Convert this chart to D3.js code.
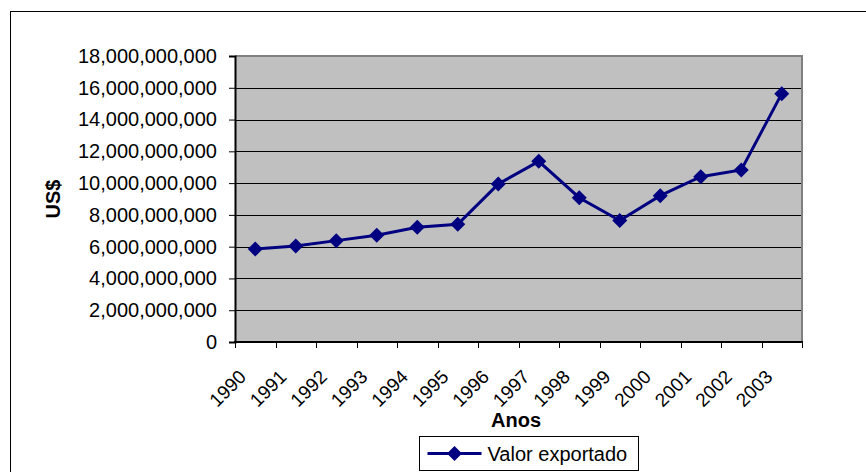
<!DOCTYPE html>
<html lang="pt">
<head>
  <meta charset="UTF-8">
  <title>Valor exportado</title>
  <script src="https://d3js.org/d3.v7.min.js"></script>
  <style>
    body { margin:0; background:#fff; }
    svg { display:block; font-family:'Liberation Sans', Arial, sans-serif; }
  </style>
</head>
<body>
  <svg width="866" height="472"></svg>
  <script>
    // anos e valores exportados (US$)
    const years = ['1990','1991','1992','1993','1994','1995','1996','1997','1998','1999','2000','2001','2002','2003']
    const values = [5.85e9, 6.04e9, 6.38e9, 6.72e9, 7.22e9, 7.41e9, 9.94e9, 11.37e9, 9.08e9, 7.64e9, 9.21e9, 10.40e9, 10.83e9, 15.63e9]
    const yTicks = [0, 2e9, 4e9, 6e9, 8e9, 10e9, 12e9, 14e9, 16e9, 18e9]
    const seriesName = 'Valor exportado'

    const svg = d3.select('svg')
    const plot = {left: 235, right: 802, top: 56, bottom: 342}
    const navy = '#000080'

    // outer chart border (runs off the page right and bottom)
    svg.append('rect')
      .attr('x', 10.5).attr('y', 11.5)
      .attr('width', 900).attr('height', 500)
      .attr('fill', 'none').attr('stroke', '#000').attr('stroke-width', 1)

    const x = d3.scaleBand().domain(years).range([plot.left, plot.right])
    const y = d3.scaleLinear().domain([0, 18e9]).range([plot.bottom, plot.top])

    // plot area
    svg.append('rect')
      .attr('x', plot.left).attr('y', plot.top)
      .attr('width', plot.right - plot.left).attr('height', plot.bottom - plot.top)
      .attr('fill', '#c0c0c0')

    // gridlines
    svg.append('g').selectAll('line')
      .data(yTicks.filter(d => d > 0 && d < 18e9))
      .enter().append('line')
      .attr('x1', plot.left).attr('x2', plot.right)
      .attr('y1', d => Math.round(y(d)) + 0.5).attr('y2', d => Math.round(y(d)) + 0.5)
      .attr('stroke', '#000').attr('stroke-width', 1)

    // plot border top / right in gray
    svg.append('path')
      .attr('d', `M${plot.left},${plot.top} H${plot.right} V${plot.bottom}`)
      .attr('fill', 'none').attr('stroke', '#808080').attr('stroke-width', 2)

    // y axis
    const yAxis = d3.axisLeft(y)
      .tickValues(yTicks)
      .tickSize(6)
      .tickPadding(12)
      .tickFormat(d3.format(',.0f'))
    const gy = svg.append('g')
      .attr('transform', `translate(${plot.left},0)`)
      .call(yAxis)
    gy.select('.domain').attr('stroke', '#000').attr('stroke-width', 2)
    gy.selectAll('.tick line').attr('stroke', '#000')
    gy.selectAll('.tick text')
      .attr('font-size', 20).attr('fill', '#000')
      .attr('font-family', "'Liberation Sans', Arial, sans-serif")

    // x axis: ticks on category boundaries
    const bounds = years.map(d => x(d)).concat([plot.right])
    const gx = svg.append('g')
    gx.append('line')
      .attr('x1', plot.left - 1).attr('x2', plot.right + 1)
      .attr('y1', plot.bottom).attr('y2', plot.bottom)
      .attr('stroke', '#000').attr('stroke-width', 2)
    gx.selectAll('line.tk').data(bounds).enter().append('line')
      .attr('class', 'tk')
      .attr('x1', d => Math.round(d) + 0.5).attr('x2', d => Math.round(d) + 0.5)
      .attr('y1', plot.bottom).attr('y2', plot.bottom + 6)
      .attr('stroke', '#000')
    gx.selectAll('text').data(years).enter().append('text')
      .attr('transform', d => `translate(${x(d) + x.bandwidth() / 2 - 8},${plot.bottom + 36}) rotate(-45)`)
      .attr('text-anchor', 'end')
      .attr('font-size', 19)
      .text(d => d)

    // axis titles
    svg.append('text')
      .attr('transform', `translate(60,${(plot.top + plot.bottom) / 2}) rotate(-90)`)
      .attr('text-anchor', 'middle')
      .attr('font-size', 20).attr('font-weight', 'bold')
      .text('US$')
    svg.append('text')
      .attr('x', 516).attr('y', 427)
      .attr('text-anchor', 'middle')
      .attr('font-size', 20).attr('font-weight', 'bold')
      .text('Anos')

    // series line and markers
    const cx = d => x(d) + x.bandwidth() / 2
    const line = d3.line()
      .x((d, i) => cx(years[i]))
      .y(d => y(d))
    svg.append('path')
      .datum(values)
      .attr('d', line)
      .attr('fill', 'none').attr('stroke', navy).attr('stroke-width', 3)

    const diamond = 'M0,-7.5L7.5,0L0,7.5L-7.5,0Z'
    svg.append('g').selectAll('path')
      .data(values)
      .enter().append('path')
      .attr('d', diamond)
      .attr('transform', (d, i) => `translate(${cx(years[i])},${y(d)})`)
      .attr('fill', navy)

    // legend
    const lg = svg.append('g').attr('transform', 'translate(419.5,436.5)')
    lg.append('rect')
      .attr('width', 219).attr('height', 34)
      .attr('fill', '#fff').attr('stroke', '#000')
    lg.append('line')
      .attr('x1', 8).attr('x2', 62).attr('y1', 17).attr('y2', 17)
      .attr('stroke', navy).attr('stroke-width', 3)
    lg.append('path')
      .attr('d', diamond)
      .attr('transform', 'translate(35,17)')
      .attr('fill', navy)
    lg.append('text')
      .attr('x', 68).attr('y', 24)
      .attr('font-size', 20)
      .text(seriesName)
  </script>
</body>
</html>
